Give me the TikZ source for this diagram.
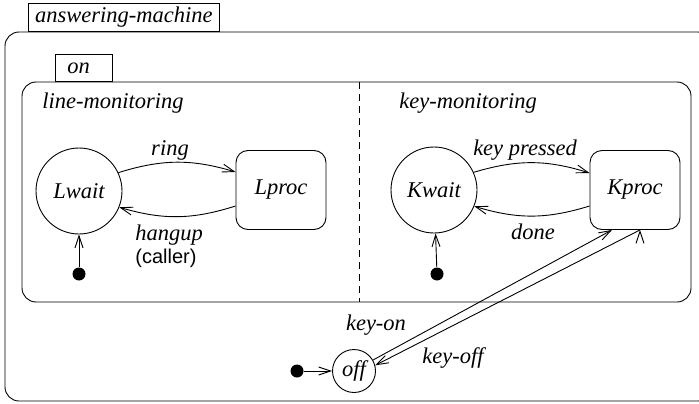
\documentclass[tikz,border=0pt]{standalone}
\usepackage{fontspec}
\setmainfont{Liberation Serif}
\setsansfont{Liberation Sans}
\usetikzlibrary{positioning, arrows.meta}

\tikzset{
	state/.style={circle, draw, minimum size=86pt, inner sep=0pt},
	activity/.style={rectangle, draw, rounded corners=12pt, minimum width=90pt, minimum height=79pt, inner sep=0pt},
	initial dot/.style={circle, fill, minimum size=13pt, inner sep=0pt},
	tab/.style={rectangle, draw, inner sep=0pt, anchor=south west},
	lbl/.style={inner sep=0pt, anchor=base},
}

\begin{document}
\begin{tikzpicture}[x=1pt, y=1pt, ->, >={Straight Barb[length=12pt,width=8pt]}, line width=0.9pt,
	every node/.style={font=\fontsize{22.5}{26}\selectfont\rmfamily\itshape}]
	\useasboundingbox (0,0) rectangle (699,-404);
	\clip (0,0) rectangle (699,-404);

	% containers
	\draw[-, rounded corners=14pt] (5,-32) rectangle (712,-401);
	\node[tab, minimum width=191pt, minimum height=28pt] (amtab) at (28,-32) {answering-machine};
	\draw[-, rounded corners=14pt] (22,-82) rectangle (691,-302);
	\node[tab, text width=33pt, inner xsep=12pt, minimum height=27pt, align=left] (ontab) at (55,-82) {on};
	\draw[-, dash pattern=on 7pt off 5pt] (359,-82) -- (359,-302);
	\node[lbl, anchor=base west] (linemon) at (42,-108) {line-monitoring};
	\node[lbl, anchor=base west] (keymon) at (399,-108) {key-monitoring};

	\node[state] (Lwait) at (79,-191) {Lwait};
	\node[activity] (Lproc) at (281,-190) {Lproc};
	\node[state] (Kwait) at (434,-190) {Kwait};
	\node[activity] (Kproc) at (635,-190) {Kproc};
	\node[state, minimum size=43pt] (off) at (354,-371) {off};

	\node[initial dot] (Linit) at (79,-274) {};
	\node[initial dot] (Kinit) at (437,-274) {};
	\node[initial dot] (offinit) at (297,-371) {};

		\draw 	(Linit) edge (Lwait)
				(Kinit) edge (Kwait)
				(offinit) edge (off)
				(Lwait.25) edge [bend left=17] ([yshift=18pt]Lproc.west)
				([yshift=-16pt]Lproc.west) edge [bend left=17] (Lwait.-22)
				(Kwait.24) edge [bend left=17] ([yshift=17pt]Kproc.west)
				([yshift=-16pt]Kproc.west) edge [bend left=17] (Kwait.-22)
				(off.30) edge ([xshift=-23pt]Kproc.south)
				([xshift=5pt]Kproc.south) edge (off.15)
		;

	\node[lbl] (ringlbl) at (170,-155) {ring};
	\node[lbl, anchor=base west] (hanglbl) at (135,-240) {hangup};
	\node[lbl, anchor=base west, font=\fontsize{20}{24}\selectfont\sffamily\upshape] (callerlbl) at (135,-263) {(caller)};
	\node[lbl] (presslbl) at (525,-155) {key pressed};
	\node[lbl] (donelbl) at (533,-239) {done};
	\node[lbl] (onlbl) at (376,-330) {key-on};
	\node[lbl] (offlbl) at (453,-363) {key-off};
\end{tikzpicture}
\end{document}
